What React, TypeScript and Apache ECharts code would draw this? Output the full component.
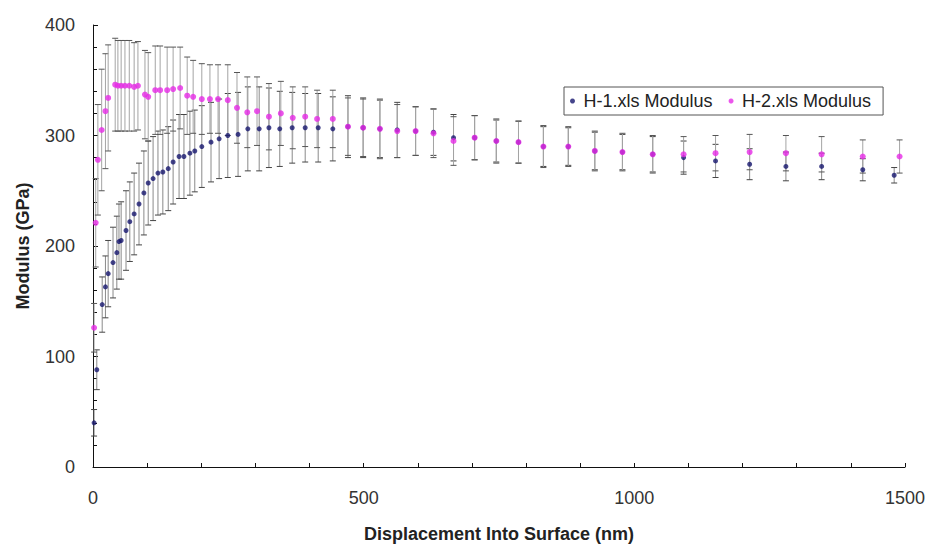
import React, { useEffect, useRef } from "react";
import * as echarts from "echarts";

// Nanoindentation modulus vs. displacement, two samples with standard-deviation bars
const depthH1 = [2, 7, 17, 23, 28, 37, 44, 48, 52, 61, 68, 76, 85, 94, 102, 111, 120, 129, 139, 148, 159, 168, 179, 188, 201, 218, 233, 249, 268, 286, 307, 325, 345, 368, 392, 416, 443, 471, 499, 530, 562, 596, 629, 666, 705, 745, 786, 832, 878, 927, 978, 1034, 1091, 1150, 1213, 1280, 1346, 1422, 1480];
const modulusH1 = [40, 88, 147, 163, 175, 185, 194, 204, 205, 214, 222, 229, 238, 248, 257, 261, 266, 267, 270, 276, 281, 281, 284, 286, 290, 294, 297, 300, 301, 306, 306, 307, 306, 307, 307, 307, 306, 308, 307, 306, 305, 304, 303, 298, 298, 295, 294, 290, 290, 286, 285, 283, 280, 277, 274, 272, 272, 269, 264];
const errH1 = [12, 18, 25, 28, 30, 32, 33, 34, 35, 36, 36, 37, 37, 38, 38, 38, 38, 38, 38, 38, 38, 38, 38, 37, 37, 36, 36, 38, 38, 38, 38, 36, 34, 32, 31, 31, 29, 28, 27, 26, 25, 22, 21, 21, 20, 19, 19, 18, 17, 17, 16, 16, 15, 15, 14, 13, 12, 10, 7];

const depthH2 = [2, 5, 9, 16, 23, 28, 41, 46, 52, 59, 67, 76, 83, 96, 102, 115, 124, 137, 148, 161, 174, 185, 201, 216, 231, 249, 266, 285, 303, 325, 347, 369, 392, 414, 443, 471, 499, 530, 562, 596, 629, 666, 705, 745, 786, 832, 878, 927, 978, 1034, 1091, 1150, 1213, 1280, 1346, 1422, 1490];
const modulusH2 = [126, 221, 278, 305, 322, 334, 346, 345, 345, 345, 345, 344, 345, 337, 335, 341, 341, 341, 342, 343, 336, 335, 333, 333, 333, 332, 325, 321, 322, 317, 320, 316, 317, 315, 315, 308, 307, 306, 304, 304, 302, 295, 298, 295, 294, 290, 290, 286, 285, 283, 283, 284, 285, 284, 283, 281, 281];
const errH2 = [22, 40, 50, 55, 52, 48, 42, 41, 41, 41, 41, 40, 40, 40, 40, 40, 40, 39, 38, 37, 35, 33, 32, 31, 31, 32, 32, 32, 31, 30, 29, 28, 27, 26, 26, 26, 26, 27, 24, 22, 22, 22, 20, 20, 19, 19, 18, 18, 17, 17, 16, 16, 16, 16, 16, 15, 15];

const seriesNames = ["H-1.xls Modulus", "H-2.xls Modulus"];
const xTitle = "Displacement Into Surface (nm)";
const yTitle = "Modulus (GPa)";

const FONT = "'Liberation Sans', Arial, sans-serif";

function errorSeries(depth: number[], mod: number[], err: number[], barColor: string, capColor: string) {
  const data = depth.map((d, i) => [d, mod[i] - err[i], mod[i] + err[i]]);
  return {
    type: "custom",
    silent: true,
    z: 1,
    encode: { x: 0, y: [1, 2] },
    data,
    renderItem: (_params: any, api: any) => {
      const x = api.value(0);
      const lo = api.coord([x, api.value(1)]);
      const hi = api.coord([x, api.value(2)]);
      const half = 3;
      return {
        type: "group",
        children: [
          { type: "line", shape: { x1: lo[0], y1: lo[1], x2: hi[0], y2: hi[1] }, style: { stroke: barColor, lineWidth: 1 } },
          { type: "line", shape: { x1: hi[0] - half, y1: hi[1], x2: hi[0] + half, y2: hi[1] }, style: { stroke: capColor, lineWidth: 1 } },
          { type: "line", shape: { x1: lo[0] - half, y1: lo[1], x2: lo[0] + half, y2: lo[1] }, style: { stroke: capColor, lineWidth: 1 } },
        ],
      };
    },
  };
}

export default function App() {
  const ref = useRef<HTMLDivElement>(null);

  useEffect(() => {
    if (!ref.current) return;
    const chart = echarts.init(ref.current, null, { renderer: "svg" });
    const navy = "#16166e";
    const magenta = "#e62be6";
    chart.setOption({
      animation: false,
      backgroundColor: "#ffffff",
      textStyle: { fontFamily: FONT },
      grid: { left: 93, right: 34, top: 25, bottom: 78 },
      legend: {
        data: seriesNames,
        left: 564,
        top: 87,
        orient: "horizontal",
        icon: "circle",
        itemWidth: 12,
        itemHeight: 5,
        itemGap: 16,
        padding: [5, 12, 5, 6],
        borderColor: "#555",
        borderWidth: 1,
        textStyle: { fontFamily: FONT, fontSize: 18, color: "#222" },
      },
      xAxis: {
        type: "value",
        min: 0,
        max: 1500,
        interval: 500,
        name: xTitle,
        nameLocation: "middle",
        nameGap: 58,
        nameTextStyle: { fontFamily: FONT, fontSize: 18, fontWeight: "bold", color: "#222" },
        axisLine: { show: true, onZero: false, lineStyle: { color: "#111", width: 1 } },
        axisTick: { show: true, inside: true, length: 4, lineStyle: { color: "#111" } },
        minorTick: { show: true, splitNumber: 5, length: 4, lineStyle: { color: "#111" } },
        axisLabel: { fontFamily: FONT, fontSize: 18, color: "#333", margin: 22, formatter: (v: number) => String(v) },
        splitLine: { show: false },
      },
      yAxis: {
        type: "value",
        min: 0,
        max: 400,
        interval: 100,
        name: yTitle,
        nameLocation: "middle",
        nameGap: 61,
        nameTextStyle: { fontFamily: FONT, fontSize: 18, fontWeight: "bold", color: "#222" },
        axisLine: { show: true, onZero: false, lineStyle: { color: "#111", width: 1 } },
        axisTick: { show: true, inside: true, length: 5, lineStyle: { color: "#111" } },
        minorTick: { show: true, splitNumber: 5, length: 4, lineStyle: { color: "#111" } },
        axisLabel: { fontFamily: FONT, fontSize: 18, color: "#333", margin: 18, formatter: (v: number) => String(v) },
        splitLine: { show: false },
      },
      series: [
        errorSeries(depthH1, modulusH1, errH1, "#8a8a8a", "#444"),
        errorSeries(depthH2, modulusH2, errH2, "#a4a4a4", "#555"),
        {
          name: seriesNames[0],
          type: "scatter",
          z: 3,
          symbol: "circle",
          symbolSize: 5,
          itemStyle: { color: navy },
          data: depthH1.map((d, i) => [d, modulusH1[i]]),
        },
        {
          name: seriesNames[1],
          type: "scatter",
          z: 4,
          symbol: "circle",
          symbolSize: 6,
          itemStyle: { color: magenta },
          data: depthH2.map((d, i) => [d, modulusH2[i]]),
        },
      ],
    });
    return () => chart.dispose();
  }, []);

  return <div ref={ref} style={{ width: 939, height: 548, position: "absolute", left: 0, top: 0 }} />;
}
